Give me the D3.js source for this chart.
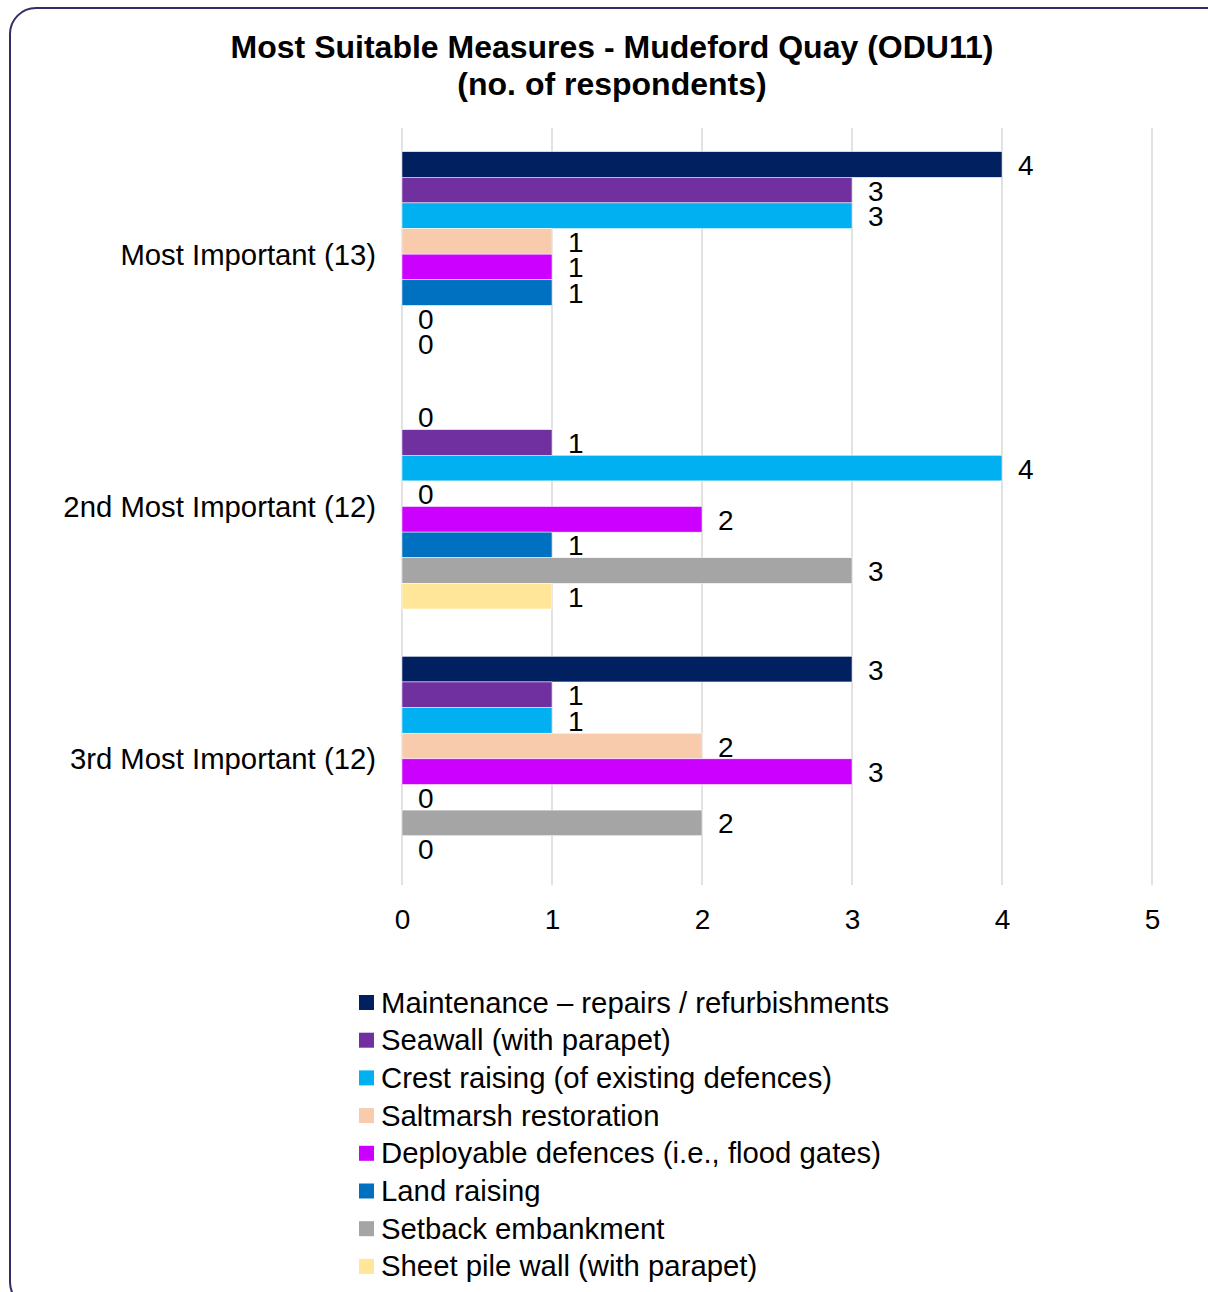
<!DOCTYPE html>
<html>
<head>
<meta charset="utf-8">
<script src="https://cdn.jsdelivr.net/npm/d3@7"></script>
<style>
  html, body { margin: 0; padding: 0; background: #fff; }
  svg { display: block; font-family: "Liberation Sans", Arial, sans-serif; }
</style>
</head>
<body>
<svg id="chart" width="1208" height="1292"></svg>
<script>
// Survey categories (rows) and the measures shown within each row
const categories = ["Most Important (13)", "2nd Most Important (12)", "3rd Most Important (12)"];
const seriesNames = [
  "Maintenance \u2013 repairs / refurbishments",
  "Seawall (with parapet)",
  "Crest raising (of existing defences)",
  "Saltmarsh restoration",
  "Deployable defences (i.e., flood gates)",
  "Land raising",
  "Setback embankment",
  "Sheet pile wall (with parapet)"
];
const seriesColors = ["#002060", "#7030A0", "#00B0F0", "#F8CBAD", "#CC00FF", "#0070C0", "#A5A5A5", "#FFE699"];

// Number of respondents per measure, one array per category
const mostImportant = [4, 3, 3, 1, 1, 1, 0, 0];
const secondImportant = [0, 1, 4, 0, 2, 1, 3, 1];
const thirdImportant = [3, 1, 1, 2, 3, 0, 2, 0];
const valuesByCategory = [mostImportant, secondImportant, thirdImportant];

const xTicks = [0, 1, 2, 3, 4, 5];
const titleLines = ["Most Suitable Measures - Mudeford Quay (ODU11)", "(no. of respondents)"];

const svg = d3.select("#chart");

// Rounded frame around the chart
svg.append("rect")
  .attr("x", 10).attr("y", 8)
  .attr("width", 1230).attr("height", 1300)
  .attr("rx", 26).attr("ry", 26)
  .attr("fill", "#fff")
  .attr("stroke", "#3A2A63")
  .attr("stroke-width", 2);

// Title
svg.append("g").selectAll("text")
  .data(titleLines)
  .join("text")
  .attr("x", 612)
  .attr("y", (d, i) => 47 + i * 37)
  .attr("text-anchor", "middle")
  .attr("dominant-baseline", "central")
  .attr("font-size", 32)
  .attr("font-weight", "bold")
  .attr("fill", "#000")
  .text(d => d);

// Scales
const x = d3.scaleLinear().domain([0, 5]).range([402, 1152]);
const y = d3.scaleBand()
  .domain(categories)
  .range([128, 885])
  .paddingInner(0.1876)
  .paddingOuter(0.0938);
const ySub = d3.scaleBand()
  .domain(seriesNames)
  .range([0, y.bandwidth()]);

// Vertical gridlines
svg.append("g").selectAll("line")
  .data(xTicks)
  .join("line")
  .attr("x1", d => x(d)).attr("x2", d => x(d))
  .attr("y1", 128).attr("y2", 885)
  .attr("stroke", "#D9D9D9")
  .attr("stroke-width", 1.5);

// X axis tick labels
const xAxis = d3.axisBottom(x).tickValues(xTicks).tickFormat(d3.format("d")).tickSize(0).tickPadding(0);
const xAxisG = svg.append("g")
  .attr("transform", "translate(0,919)")
  .call(xAxis);
xAxisG.select(".domain").remove();
xAxisG.selectAll("text")
  .attr("dy", null)
  .attr("y", 0)
  .attr("dominant-baseline", "central")
  .attr("font-size", 28)
  .attr("font-family", "'Liberation Sans', Arial, sans-serif")
  .attr("fill", "#000");

// Category labels
const yAxis = d3.axisLeft(y).tickSize(0).tickPadding(0);
const yAxisG = svg.append("g")
  .attr("transform", "translate(376,0)")
  .call(yAxis);
yAxisG.select(".domain").remove();
yAxisG.selectAll("text")
  .attr("x", 0)
  .attr("dy", null)
  .attr("dominant-baseline", "central")
  .attr("font-size", 29.3)
  .attr("font-family", "'Liberation Sans', Arial, sans-serif")
  .attr("fill", "#000");

// Bars and value labels per category
const rows = categories.map((c, ci) => ({
  category: c,
  items: seriesNames.map((s, si) => ({ series: s, value: valuesByCategory[ci][si], color: seriesColors[si] }))
}));

const groups = svg.append("g").selectAll("g")
  .data(rows)
  .join("g")
  .attr("transform", d => `translate(0,${y(d.category)})`);

groups.selectAll("rect")
  .data(d => d.items.filter(it => it.value > 0))
  .join("rect")
  .attr("x", x(0))
  .attr("y", d => ySub(d.series))
  .attr("width", d => x(d.value) - x(0))
  .attr("height", ySub.bandwidth())
  .attr("fill", d => d.color)
  .attr("stroke", "#fff")
  .attr("stroke-width", 0.5);

groups.selectAll("text")
  .data(d => d.items)
  .join("text")
  .attr("x", d => x(d.value) + 16)
  .attr("y", d => ySub(d.series) + ySub.bandwidth() / 2 + 1)
  .attr("dominant-baseline", "central")
  .attr("font-size", 28)
  .attr("fill", "#000")
  .text(d => d.value);

// Legend
const legend = svg.append("g").selectAll("g")
  .data(seriesNames)
  .join("g")
  .attr("transform", (d, i) => `translate(359,${1002 + i * 37.7})`);

legend.append("rect")
  .attr("x", 0).attr("y", -7)
  .attr("width", 15).attr("height", 15)
  .attr("fill", (d, i) => seriesColors[i]);

legend.append("text")
  .attr("x", 22)
  .attr("y", 0)
  .attr("dominant-baseline", "central")
  .attr("font-size", 29.3)
  .attr("fill", "#000")
  .text(d => d);
</script>
</body>
</html>
